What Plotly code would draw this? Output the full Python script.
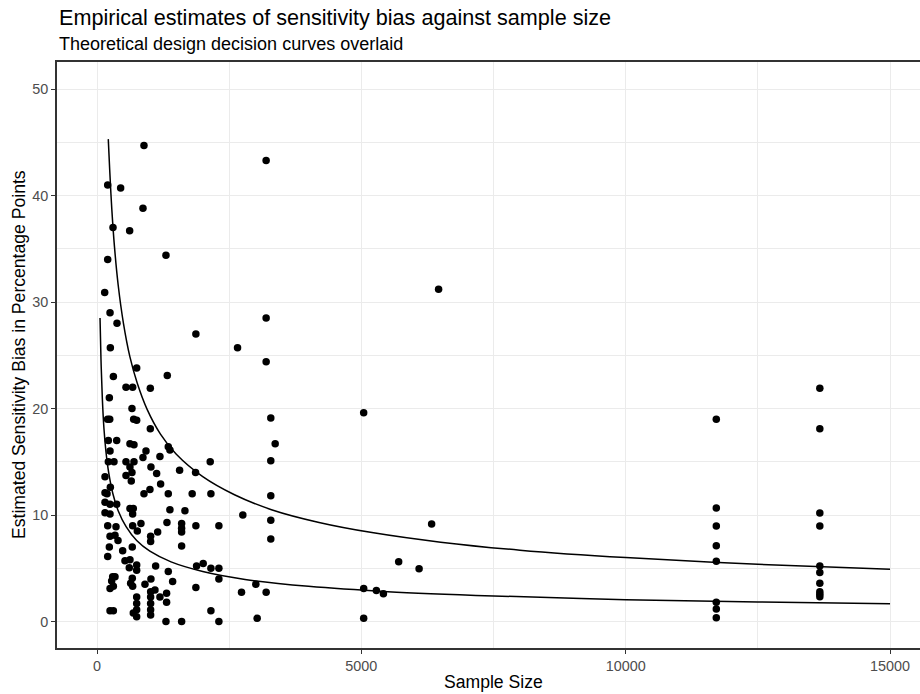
import plotly.graph_objects as go

# Empirical estimates (sample size, sensitivity bias in percentage points)
sample_size = [
    888, 3199, 202, 447, 869, 302, 617, 1304, 202, 145, 6461, 246, 3199, 378, 1870,
    252, 2658, 3199, 750, 309, 1329, 548, 674, 1008, 233, 661, 200, 240, 693, 750,
    3287, 5044, 1008, 214, 372, 3370, 623, 699, 246, 926, 869, 1348, 1379, 1190, 3287,
    214, 321, 548, 699, 623, 2141, 1020, 151, 548, 661, 648, 1128, 1203, 1562, 1864,
    252, 1001, 151, 190, 888, 1348, 1800, 2154, 3287, 151, 246, 372, 623, 686, 674,
    151, 246, 1379, 1663, 2758, 3287, 6329,
    11714, 11714, 11714, 11714, 11714, 11714, 11714, 11714,
    13672, 13672, 13672, 13672, 13672, 13672, 13672, 13672, 13672, 13672,
    202, 359, 674, 831, 762, 1323, 1600, 1600, 1600, 1870, 2305, 1147,
    246, 340, 397, 1014, 1014, 1600, 233, 667, 485, 202, 529, 623, 3287,
    750, 750, 610, 1109, 1348, 1883, 2008, 2154, 2305, 2305, 3004, 5706, 6092,
    296, 340, 277, 246, 309, 667, 636, 674, 750, 750, 750, 750, 907, 1020,
    1014, 1014, 1014, 1014, 1014, 1096, 1190, 1316, 1316,
    1430, 1870, 2733, 2154, 3029, 246, 309, 686, 1304, 1600, 2305, 3199,
    5044, 5284, 5417, 5044,
]
bias = [
    44.7, 43.3, 41.0, 40.7, 38.8, 37.0, 36.7, 34.4, 34.0, 30.9, 31.2, 29.0, 28.5, 28.0, 27.0,
    25.7, 25.7, 24.4, 23.8, 23.0, 23.1, 22.0, 22.0, 21.9, 21.0, 20.0, 19.0, 19.0, 19.0, 18.9,
    19.1, 19.6, 18.1, 17.0, 17.0, 16.7, 16.7, 16.6, 16.0, 16.0, 15.4, 16.4, 16.1, 15.5, 15.1,
    15.0, 15.0, 15.0, 15.0, 14.5, 15.0, 14.5, 13.6, 13.7, 14.0, 13.2, 13.9, 12.9, 14.2, 14.0,
    12.6, 12.4, 12.1, 12.0, 12.0, 12.0, 12.0, 12.0, 11.8, 11.2, 11.0, 11.0, 10.6, 10.6, 10.1,
    10.2, 10.1, 10.5, 10.4, 10.0, 9.5, 9.15,
    19.0, 10.66, 8.97, 7.12, 5.65, 1.8, 1.17, 0.36,
    21.9, 18.1, 10.19, 8.97, 5.21, 4.6, 3.58, 2.8, 2.55, 2.33,
    9.0, 8.9, 9.0, 9.2, 8.5, 9.3, 9.2, 8.75, 8.4, 9.0, 9.0, 8.4,
    8.0, 8.1, 7.6, 8.0, 7.5, 7.1, 7.0, 7.0, 6.65, 6.1, 5.7, 5.8, 7.75,
    5.3, 4.8, 5.05, 5.2, 4.7, 5.2, 5.45, 5.0, 5.0, 4.0, 3.5, 5.6, 4.95,
    4.2, 4.2, 3.8, 3.1, 3.3, 4.05, 3.6, 3.3, 2.3, 1.7, 1.1, 0.45, 3.5, 4.0,
    2.8, 2.3, 1.7, 1.1, 0.6, 2.95, 2.3, 2.65, 1.8,
    3.75, 3.2, 2.75, 1.0, 0.3, 1.0, 1.0, 0.8, 0.0, 0.0, 0.0, 2.75,
    3.1, 2.9, 2.6, 0.3,
]

# Theoretical design decision curves
upper_n = [213, 240, 280, 330, 400, 500, 620, 760, 950, 1200, 1500, 2000, 2600,
           3300, 4200, 5200, 6500, 8000, 10000, 12500, 15000]
upper_bias = [45.3, 42.4, 38.7, 35.2, 31.6, 28.0, 24.9, 22.4, 19.9, 17.6, 15.7, 13.6, 11.9,
              10.5, 9.3, 8.35, 7.45, 6.7, 6.0, 5.37, 4.9]
lower_n = [57, 75, 100, 130, 170, 220, 300, 400, 550, 750, 1000, 1400, 2000, 2800,
           4000, 5500, 7500, 10000, 12500, 15000]
lower_bias = [28.5, 24.6, 21.0, 18.2, 15.9, 14.0, 12.0, 10.4, 8.9, 7.6, 6.6, 5.6, 4.7, 3.95,
              3.3, 2.8, 2.4, 2.05, 1.83, 1.67]

x_ticks = [0, 5000, 10000, 15000]
y_ticks = [0, 10, 20, 30, 40, 50]

font = "Liberation Sans, Arial, sans-serif"
grid = "#EBEBEB"
border = "#333333"

fig = go.Figure()
for xs, ys in [(upper_n, upper_bias), (lower_n, lower_bias)]:
    fig.add_trace(go.Scatter(x=xs, y=ys, mode="lines", line_shape="spline",
                             line=dict(color="black", width=1.5), hoverinfo="skip"))
fig.add_trace(go.Scatter(x=sample_size, y=bias, mode="markers",
                         marker=dict(color="black", size=7.5, line=dict(width=0))))

fig.update_layout(
    width=920, height=694,
    margin=dict(l=57, r=0, t=62, b=46),
    plot_bgcolor="white", paper_bgcolor="white",
    showlegend=False,
    font=dict(family=font, color="black"),
)
fig.update_xaxes(
    range=[-757, 15567], tickvals=x_ticks, ticktext=[str(v) for v in x_ticks],
    showgrid=True, gridcolor=grid, gridwidth=1.3,
    minor=dict(tickvals=[2500, 7500, 12500], showgrid=True, gridcolor=grid, gridwidth=0.8),
    zeroline=False, showline=True, linecolor=border, linewidth=1.5, mirror=True,
    ticks="outside", ticklen=4, tickcolor=border, tickwidth=1.2,
    tickfont=dict(size=14.4, color="#4D4D4D"),
)
fig.update_yaxes(
    range=[-2.49, 52.54], tickvals=y_ticks,
    showgrid=True, gridcolor=grid, gridwidth=1.3,
    minor=dict(tickvals=[5, 15, 25, 35, 45], showgrid=True, gridcolor=grid, gridwidth=0.8),
    zeroline=False, showline=True, linecolor=border, linewidth=1.5,
    ticks="outside", ticklen=4, tickcolor=border, tickwidth=1.2,
    tickfont=dict(size=14.4, color="#4D4D4D"),
)

fig.add_annotation(text="Empirical estimates of sensitivity bias against sample size",
                   xref="paper", yref="paper", x=0, y=1.051, xanchor="left", yanchor="bottom",
                   showarrow=False, font=dict(size=21.6, color="black"))
fig.add_annotation(text="Theoretical design decision curves overlaid",
                   xref="paper", yref="paper", x=0, y=1.011, xanchor="left", yanchor="bottom",
                   showarrow=False, font=dict(size=18, color="black"))
fig.add_annotation(text="Sample Size", xref="paper", yref="paper", x=0.506, y=-0.058,
                   xanchor="center", yanchor="middle", showarrow=False,
                   font=dict(size=17.6, color="black"))
fig.add_annotation(text="Estimated Sensitivity Bias in Percentage Points", textangle=-90,
                   xref="paper", yref="paper", x=-0.044, y=0.5,
                   xanchor="center", yanchor="middle", showarrow=False,
                   font=dict(size=17.6, color="black"))

# drop the page's default body margin so the figure fills the window
fig.write_html("out.html", config={"displayModeBar": False},
               post_script="document.body.style.margin = '0';")
